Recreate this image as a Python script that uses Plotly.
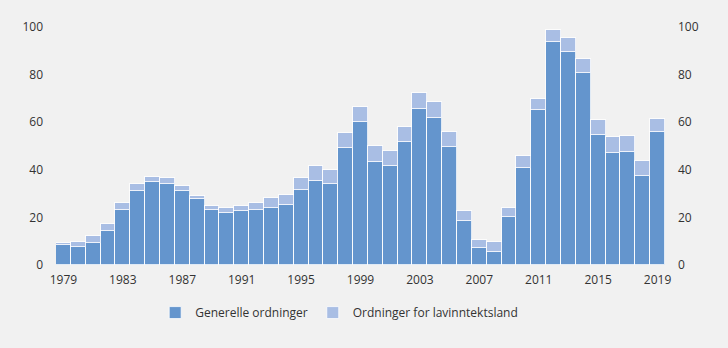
import plotly.graph_objects as go

years = list(range(1979, 2020))
generelle = [8.5, 7.7, 9.2, 14.3, 23.2, 31.2, 34.7, 34.1, 31.0, 27.7, 23.2, 21.7, 22.8,
             23.2, 24.1, 25.2, 31.7, 35.5, 34.1, 49.2, 60.1, 43.2, 41.7, 51.7, 65.6, 61.7,
             49.7, 18.6, 7.3, 5.6, 20.3, 40.6, 65.2, 93.6, 89.5, 80.7, 54.7, 47.1, 47.6,
             37.6, 55.7]
totals = [9.4, 9.5, 12.0, 17.1, 26.0, 34.1, 37.1, 36.5, 33.0, 29.0, 25.0, 24.1, 25.0,
          26.2, 28.1, 29.5, 36.5, 41.5, 40.0, 55.5, 66.4, 49.9, 48.0, 58.0, 72.3, 68.4,
          55.9, 22.7, 10.6, 9.5, 24.1, 46.0, 69.9, 98.9, 95.4, 86.4, 61.0, 53.7, 54.0,
          43.5, 61.5]
lavinntekt = [round(t - g, 1) for t, g in zip(totals, generelle)]
tick_years = list(range(1979, 2020, 4))
y_ticks = [0, 20, 40, 60, 80, 100]

dark = "#6495cd"
light = "#a9bee4"
bg = "#f1f1f1"
txt = "#333333"

fig = go.Figure()
fig.add_trace(go.Bar(x=years, y=generelle, name="Generelle ordninger",
                     marker=dict(color=dark, line=dict(color="rgba(255,255,255,0.8)", width=1))))
fig.add_trace(go.Bar(x=years, y=lavinntekt, name="Ordninger for lavinntektsland",
                     marker=dict(color=light, line=dict(color="rgba(255,255,255,0.8)", width=1))))
fig.add_trace(go.Scatter(x=[years[0]], y=[0], yaxis="y2", mode="markers",
                         marker=dict(opacity=0), showlegend=False, hoverinfo="skip"))

fig.update_layout(
    width=728, height=348,
    margin=dict(l=56, r=63, t=27, b=83),
    paper_bgcolor=bg, plot_bgcolor=bg,
    barmode="stack", bargap=0,
    font=dict(family="Open Sans", size=12, color=txt),
    xaxis=dict(range=[1978.5, 2019.5], tickvals=tick_years, showgrid=False,
               showline=False, zeroline=False, ticks="", ticklabelstandoff=6,
               tickfont=dict(size=12, color=txt)),
    yaxis=dict(range=[0, 100], tickvals=y_ticks, showgrid=False, zeroline=False,
               showline=False, ticks="", ticklabelstandoff=12,
               tickfont=dict(size=12, color=txt)),
    yaxis2=dict(range=[0, 100], tickvals=y_ticks, overlaying="y", side="right",
                showgrid=False, zeroline=False, showline=False, ticks="",
                ticklabelstandoff=12, tickfont=dict(size=12, color=txt)),
    legend=dict(orientation="h", x=0.465, xanchor="center", y=-0.2, yanchor="middle",
                font=dict(size=12, color=txt), bgcolor="rgba(0,0,0,0)", traceorder="normal"),
)

fig.write_html("out.html")
